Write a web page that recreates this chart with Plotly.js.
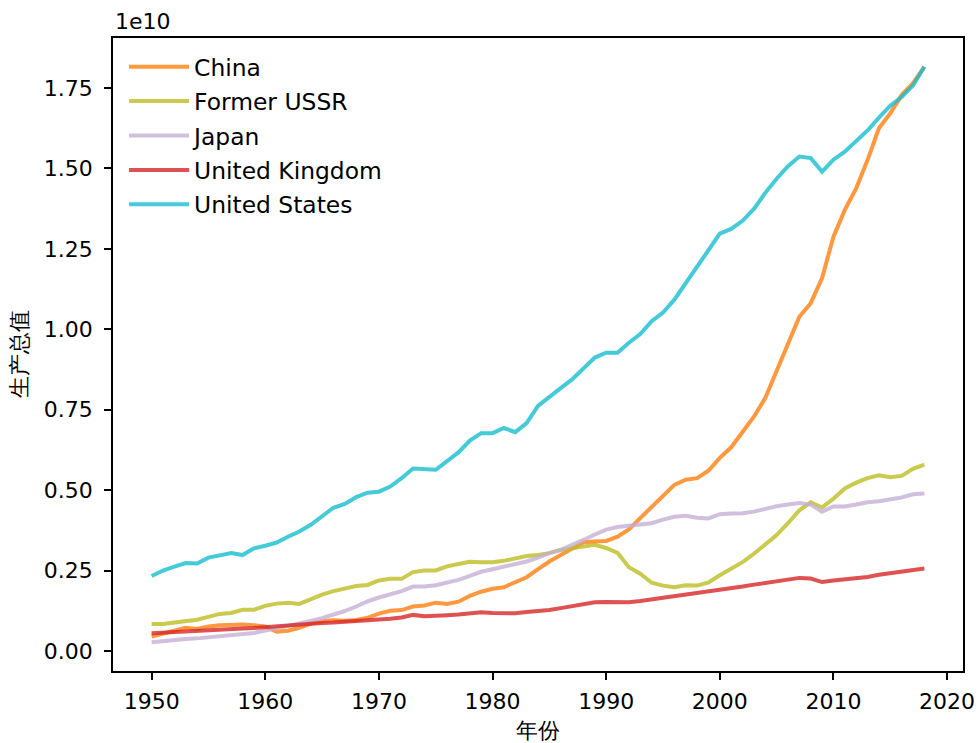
<!DOCTYPE html>
<html>
<head>
<meta charset="utf-8">
<script src="https://cdn.plot.ly/plotly-3.0.1.min.js"></script>
<style>
  html, body { margin: 0; padding: 0; background: #fff; }
  #chart { width: 979px; height: 743px; }
</style>
</head>
<body>
<div id="chart"></div>
<script>
// Years 1950 - 2018
const years = [];
for (let y = 1950; y <= 2018; y++) years.push(y);

// Values in units of 1e10 (as shown by the axis offset label)
const china = [0.045,0.055,0.063,0.072,0.068,0.076,0.080,0.082,0.082,0.080,
  0.076,0.060,0.063,0.072,0.085,0.092,0.095,0.094,0.096,0.103,
  0.116,0.125,0.127,0.138,0.141,0.150,0.146,0.153,0.171,0.184,
  0.193,0.198,0.213,0.229,0.254,0.278,0.298,0.319,0.338,0.340,
  0.342,0.355,0.378,0.413,0.447,0.485,0.516,0.532,0.537,0.560,
  0.600,0.633,0.682,0.728,0.786,0.868,0.956,1.039,1.081,1.159,
  1.288,1.371,1.438,1.526,1.625,1.671,1.728,1.765,1.816];

const ussr = [0.084,0.084,0.088,0.093,0.097,0.106,0.115,0.118,0.128,0.128,
  0.140,0.147,0.150,0.146,0.162,0.175,0.186,0.195,0.202,0.205,
  0.219,0.224,0.224,0.245,0.250,0.250,0.263,0.270,0.277,0.276,
  0.276,0.280,0.288,0.295,0.298,0.304,0.314,0.319,0.324,0.330,
  0.320,0.305,0.260,0.240,0.212,0.203,0.198,0.204,0.203,0.213,
  0.235,0.256,0.276,0.302,0.332,0.360,0.397,0.437,0.462,0.446,
  0.473,0.505,0.523,0.537,0.546,0.540,0.544,0.566,0.579];

const japan = [0.027,0.031,0.034,0.037,0.039,0.042,0.045,0.048,0.051,0.056,
  0.063,0.070,0.078,0.085,0.093,0.102,0.112,0.124,0.138,0.154,
  0.166,0.176,0.186,0.200,0.200,0.204,0.211,0.221,0.233,0.246,
  0.254,0.262,0.269,0.278,0.290,0.304,0.314,0.328,0.345,0.362,
  0.377,0.385,0.388,0.391,0.397,0.408,0.417,0.420,0.414,0.412,
  0.425,0.427,0.428,0.433,0.443,0.450,0.455,0.460,0.455,0.433,
  0.449,0.449,0.455,0.462,0.465,0.471,0.477,0.487,0.489];

const uk = [0.055,0.057,0.060,0.062,0.065,0.067,0.068,0.069,0.070,0.071,
  0.074,0.076,0.077,0.080,0.084,0.087,0.088,0.090,0.093,0.096,
  0.098,0.100,0.104,0.112,0.108,0.108,0.111,0.113,0.116,0.120,
  0.118,0.116,0.117,0.121,0.123,0.127,0.133,0.140,0.146,0.151,
  0.152,0.150,0.151,0.155,0.160,0.164,0.168,0.173,0.179,0.185,
  0.191,0.196,0.200,0.206,0.211,0.216,0.221,0.227,0.225,0.214,
  0.219,0.222,0.225,0.230,0.237,0.242,0.247,0.252,0.256];

const us = [0.233,0.250,0.262,0.273,0.272,0.290,0.297,0.304,0.298,0.319,
  0.327,0.337,0.355,0.371,0.392,0.418,0.445,0.457,0.478,0.492,
  0.495,0.511,0.537,0.567,0.565,0.563,0.590,0.617,0.654,0.677,
  0.677,0.693,0.680,0.708,0.762,0.791,0.817,0.844,0.880,0.912,
  0.927,0.927,0.958,0.985,1.025,1.052,1.092,1.142,1.192,1.247,
  1.297,1.312,1.337,1.374,1.424,1.468,1.507,1.537,1.532,1.490,
  1.527,1.552,1.587,1.618,1.658,1.695,1.722,1.758,1.816];

const seriesNames = ['China', 'Former USSR', 'Japan', 'United Kingdom', 'United States'];
const seriesValues = [china, ussr, japan, uk, us];
const seriesColors = ['#ff7f0e', '#bcbd22', '#c5b0d5', '#d62728', '#17becf'];

const xTickVals = [1950, 1960, 1970, 1980, 1990, 2000, 2010, 2020];
const yTickVals = [0, 0.25, 0.5, 0.75, 1.0, 1.25, 1.5, 1.75];
const yTickText = ['0.00', '0.25', '0.50', '0.75', '1.00', '1.25', '1.50', '1.75'];
const offsetLabel = '1e10';
const xLabel = '年份';
const yLabel = '生产总值';

const FONT = 'DejaVu Sans, Liberation Sans, sans-serif';

const traces = seriesNames.map((name, i) => ({
  type: 'scatter',
  mode: 'lines',
  name: name,
  legendgroup: name,
  x: years,
  y: seriesValues[i],
  opacity: 0.8,
  line: { color: seriesColors[i], width: 4 },
  hoverinfo: 'x+y+name'
}));

// axis ranges with 5% padding, like the reference
const allVals = [].concat(...seriesValues);
const vmin = Math.min(...allVals), vmax = Math.max(...allVals);
const ypad = (vmax - vmin) * 0.05;
const xpad = (years[years.length - 1] - years[0]) * 0.05;

const axisCommon = {
  showgrid: false,
  zeroline: false,
  showline: true,
  linecolor: '#000',
  linewidth: 1.7,
  mirror: true,
  ticks: 'outside',
  ticklen: 7,
  tickwidth: 1.7,
  tickcolor: '#000',
  tickfont: { family: FONT, size: 22, color: '#000' }
};

const layout = {
  width: 979,
  height: 743,
  paper_bgcolor: '#fff',
  plot_bgcolor: '#fff',
  margin: { l: 113, r: 16, t: 38, b: 72 },
  showlegend: true,
  legend: {
    x: 0.013, y: 0.989, xanchor: 'left', yanchor: 'top',
    bgcolor: 'rgba(255,255,255,0)',
    borderwidth: 0,
    font: { family: FONT, size: 23.4, color: '#000' },
    itemwidth: 60,
    tracegroupgap: 1
  },
  xaxis: Object.assign({}, axisCommon, {
    range: [years[0] - xpad, years[years.length - 1] + xpad],
    tickvals: xTickVals,
    ticktext: xTickVals.map(String),
    ticklabelstandoff: 3,
    title: { text: xLabel, font: { family: FONT, size: 21.5, color: '#000' }, standoff: 11 }
  }),
  yaxis: Object.assign({}, axisCommon, {
    range: [vmin - ypad, vmax + ypad],
    tickvals: yTickVals,
    ticktext: yTickText,
    ticklabelstandoff: 7,
    title: { text: yLabel, font: { family: FONT, size: 21.5, color: '#000' }, standoff: 10 }
  }),
  annotations: [{
    text: offsetLabel,
    xref: 'paper', yref: 'paper',
    x: 0, y: 1, xanchor: 'left', yanchor: 'bottom',
    yshift: 2, xshift: 0,
    showarrow: false,
    font: { family: FONT, size: 22, color: '#000' }
  }]
};

Plotly.newPlot('chart', traces, layout, { displayModeBar: false, staticPlot: false });
</script>
</body>
</html>
